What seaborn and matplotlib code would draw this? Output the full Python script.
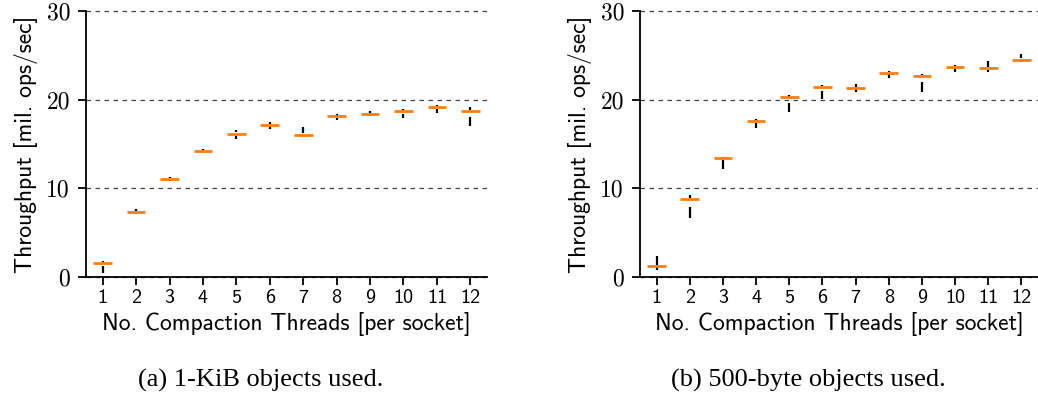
import numpy as np
import pandas as pd
import matplotlib
matplotlib.use("Agg")
import matplotlib.pyplot as plt
import seaborn as sns

threads = [1, 2, 3, 4, 5, 6, 7, 8, 9, 10, 11, 12]

# (a) 1-KiB objects: per-thread-count summary of throughput [mil. ops/sec]
kib_low = [0.40, 7.05, 10.83, 14.08, 15.60, 16.70, 15.85, 17.70, 18.11, 17.88, 18.45, 17.00]
kib_q1 = [1.25, 7.25, 10.95, 14.15, 15.90, 16.95, 15.95, 17.95, 18.30, 18.40, 18.90, 18.00]
kib_median = [1.54, 7.35, 11.05, 14.26, 16.15, 17.13, 16.04, 18.11, 18.41, 18.72, 19.17, 18.72]
kib_q3 = [1.65, 7.45, 11.15, 14.35, 16.35, 17.25, 16.20, 18.20, 18.50, 18.80, 19.25, 18.82]
kib_high = [1.85, 7.65, 11.24, 14.45, 16.60, 17.47, 16.87, 18.34, 18.68, 18.98, 19.43, 19.13]

# (b) 500-byte objects
b500_low = [0.75, 6.60, 12.15, 16.80, 18.57, 20.10, 20.83, 22.45, 20.83, 23.17, 23.10, 24.22]
b500_q1 = [1.15, 7.92, 13.25, 17.40, 19.63, 20.94, 21.20, 22.90, 21.96, 23.55, 23.40, 24.40]
b500_median = [1.23, 8.80, 13.40, 17.54, 20.26, 21.47, 21.32, 23.06, 22.72, 23.70, 23.55, 24.53]
b500_q3 = [1.35, 8.95, 13.50, 17.65, 20.35, 21.55, 21.45, 23.15, 22.80, 23.80, 23.70, 24.65]
b500_high = [2.33, 9.24, 13.47, 17.80, 20.57, 21.70, 21.78, 23.28, 22.88, 23.93, 24.34, 25.10]

y_ticks = [0, 10, 20, 30]
x_label = "No. Compaction Threads [per socket]"
y_label = "Throughput [mil. ops/sec]"
captions = ["(a) 1-KiB objects used.", "(b) 500-byte objects used."]


def long_form(low, q1, med, q3, high):
    rows = []
    for t, a, b, c, d, e in zip(threads, low, q1, med, q3, high):
        for v in (a, b, c, d, e):
            rows.append({"threads": t, "throughput": v})
    return pd.DataFrame(rows)


panels = [
    long_form(kib_low, kib_q1, kib_median, kib_q3, kib_high),
    long_form(b500_low, b500_q1, b500_median, b500_q3, b500_high),
]

sns.set_theme(style="ticks")
plt.rcParams["font.family"] = ["DejaVu Sans"]

fig = plt.figure(figsize=(10.38, 4.13), dpi=100)
axes_rects = [
    [86 / 1038, 136 / 413, 401 / 1038, 266 / 413],
    [640 / 1038, 136 / 413, 398 / 1038, 266 / 413],
]
caption_x = [261 / 1038, 808 / 1038]

label_font = "cmss10"
num_font = "cmr10"

for rect, df, cap, cx in zip(axes_rects, panels, captions, caption_x):
    ax = fig.add_axes(rect)
    sns.boxplot(
        data=df, x="threads", y="throughput", order=threads, ax=ax,
        whis=(0, 100), width=0.56, showcaps=False, showfliers=False,
        color="white", linecolor="black", linewidth=1.5,
        medianprops=dict(color="#ff7f0e", linewidth=2.0),
        whiskerprops=dict(color="black", linewidth=1.6),
    )
    # hide the box bodies; only whiskers and medians remain
    for p in ax.patches:
        p.set_visible(False)

    ax.set_xlim(-0.5, len(threads) - 0.5)
    ax.set_ylim(y_ticks[0], y_ticks[-1])
    ax.set_yticks(y_ticks)
    ax.set_xticks(range(len(threads)))
    ax.set_xticklabels([str(t) for t in threads], fontfamily=label_font, fontsize=14.5)
    ax.set_yticklabels([str(t) for t in y_ticks], fontfamily=num_font, fontsize=17)

    ax.yaxis.grid(True, color="#444444", linestyle=(0, (3.6, 3.6)), linewidth=0.9)
    for gl in ax.get_ygridlines():
        gl.set_clip_on(False)
    ax.set_axisbelow(True)

    for side in ("top", "right"):
        ax.spines[side].set_visible(False)
    for side in ("left", "bottom"):
        ax.spines[side].set_linewidth(1.3)
        ax.spines[side].set_color("black")
    ax.tick_params(axis="both", direction="out", length=6, width=1.3, color="black",
                   labelcolor="black")
    ax.tick_params(axis="x", pad=2.5)
    ax.tick_params(axis="y", pad=5.5)

    ax.set_xlabel(x_label, fontfamily=label_font, fontsize=17, labelpad=4, color="black")
    ax.set_ylabel(y_label, fontfamily=label_font, fontsize=17, labelpad=6, color="black")

    fig.text(cx, 33 / 413, cap, ha="center", va="center",
             fontfamily="Liberation Serif", fontsize=19, color="black")

fig.savefig("out.png", dpi=100, facecolor="white")
